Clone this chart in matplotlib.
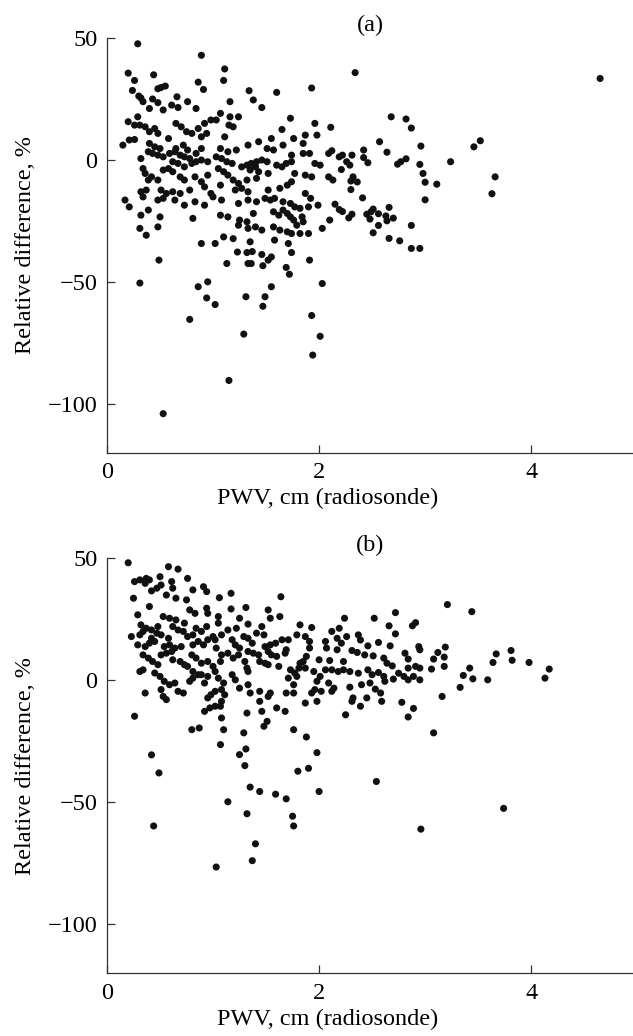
"""
Relative difference vs radiosonde PWV, two panels (a) and (b)
"""
import numpy as np
import matplotlib
matplotlib.use("Agg")
import matplotlib.pyplot as plt

# ---- panel (a): (PWV cm, relative difference %) ----
a_left_cluster = [
    (0.34, 23.8), (0.40, 21.0), (0.48, 23.4), (0.53, 20.4), (0.61, 22.4), (0.67, 21.4),
    (0.76, 23.8), (0.84, 21.0), (0.20, 15.6), (0.26, 14.2), (0.31, 14.2), (0.36, 13.5),
    (0.29, 17.6), (0.40, 11.5), (0.45, 12.8), (0.48, 10.8), (0.65, 14.9), (0.70, 13.5),
    (0.75, 11.5), (0.80, 10.8), (0.86, 12.8), (0.92, 14.9), (0.98, 16.3), (0.89, 9.4),
    (0.94, 10.8), (0.15, 6.0), (0.21, 8.1), (0.26, 8.3), (0.40, 6.7), (0.45, 5.3),
    (0.50, 4.6), (0.58, 8.7), (0.39, 3.3), (0.43, 2.6), (0.48, 1.9), (0.53, 1.2),
    (0.59, 2.6), (0.64, 3.3), (0.69, 1.9), (0.73, 1.2), (0.78, 0.5), (0.84, 2.6),
    (0.89, 4.6), (0.65, 4.6), (0.72, 6.0), (0.76, 4.0), (0.32, 0.5), (0.62, -0.8),
    (0.67, -1.5), (0.73, -2.9), (0.80, -1.5), (0.84, -0.8), (0.89, -0.1), (0.95, -0.8),
    (0.34, -3.6), (0.36, -5.6), (0.39, -8.3), (0.42, -7.0), (0.48, -8.3), (0.53, -4.2),
    (0.58, -3.6), (0.62, -4.9), (0.69, -7.0), (0.73, -8.3), (0.83, -7.0), (0.89, -9.0),
    (0.95, -6.3), (0.32, -13.1), (0.37, -12.4), (0.51, -12.4), (0.56, -13.8), (0.62, -13.1),
    (0.69, -13.8), (0.78, -12.4), (0.92, -11.1), (0.98, -13.8), (0.34, -15.2), (0.48, -16.5),
    (0.53, -15.8), (0.64, -16.5), (0.73, -18.6), (0.83, -17.2), (0.92, -18.6), (1.00, -15.2),
    (0.17, -16.5), (0.21, -19.3), (0.32, -22.7), (0.39, -20.6), (0.50, -23.4), (0.31, -28.1),
    (0.37, -30.9), (0.48, -27.5), (0.81, -24.0), (0.89, -34.3),
]

a_mid_cluster = [
    (1.16, 23.8), (1.38, 24.5), (1.46, 21.4), (1.07, 19.0), (1.16, 17.6), (1.24, 17.6),
    (1.15, 14.2), (1.19, 13.5), (1.03, 16.3), (1.73, 17.0), (1.96, 14.9), (1.65, 12.4),
    (1.87, 10.1), (1.98, 10.1), (1.55, 8.7), (1.76, 8.7), (1.43, 7.4), (1.11, 9.4),
    (1.33, 6.0), (1.51, 4.6), (1.66, 6.0), (1.85, 6.7), (1.07, 4.6), (1.14, 3.3),
    (1.22, 4.0), (1.57, 4.0), (1.74, 1.9), (1.85, 2.6), (1.91, 2.6), (2.09, 2.6),
    (1.03, 1.2), (1.08, 0.5), (1.13, -0.8), (1.18, -1.5), (1.27, -2.9), (1.32, -2.2),
    (1.36, -1.5), (1.41, -0.8), (1.46, -0.1), (1.51, -0.8), (1.40, -2.9), (1.43, -4.9),
    (1.35, -4.2), (1.60, -2.2), (1.65, -2.9), (1.74, -0.8), (1.69, -1.5), (1.05, -3.6),
    (1.10, -4.9), (1.14, -6.3), (1.19, -8.3), (1.24, -9.7), (1.32, -8.3), (1.41, -7.6),
    (1.52, -5.6), (1.77, -5.6), (1.87, -6.3), (1.93, -7.0), (1.96, -1.5), (2.01, -2.2),
    (2.09, -7.0), (1.63, -11.7), (1.70, -10.4), (1.74, -9.0), (1.21, -12.4), (1.27, -11.7),
    (1.33, -13.1), (1.52, -12.4), (1.07, -10.4), (1.87, -13.8), (1.92, -15.8), (1.08, -16.5),
    (1.33, -16.5), (1.49, -15.8), (1.54, -16.5), (1.58, -15.8), (1.66, -17.2), (1.73, -17.9),
    (1.77, -19.3), (1.82, -19.9), (1.24, -17.9), (1.41, -17.2), (1.90, -19.3), (1.99, -18.6),
    (1.57, -21.3), (1.62, -22.7), (1.66, -20.6), (1.70, -22.0), (1.73, -23.4), (1.76, -24.7),
    (1.79, -26.8), (1.84, -23.4), (1.85, -25.4), (1.07, -22.7), (1.14, -23.4), (1.38, -22.0),
    (1.25, -24.7), (1.32, -25.4), (1.24, -26.8), (1.33, -28.1), (1.40, -27.5), (1.46, -28.8),
    (1.57, -27.5), (1.63, -28.8), (1.70, -29.5), (1.74, -30.2), (1.82, -30.2), (1.90, -30.2),
    (2.03, -28.1), (1.10, -31.6), (1.19, -32.3), (1.35, -33.6), (1.58, -32.9), (1.71, -34.3),
    (1.02, -34.3),
]

a_upper = [
    (0.29, 47.5), (0.89, 42.8), (1.11, 37.2), (1.10, 32.5), (0.20, 35.5), (0.26, 32.5),
    (0.44, 34.8), (2.34, 35.7), (4.65, 33.3), (0.86, 31.8), (0.91, 28.8), (0.24, 28.4),
    (1.93, 29.4), (1.34, 28.3), (1.60, 27.6), (0.30, 26.1), (0.32, 25.3), (0.48, 29.1),
    (0.51, 29.6), (0.55, 30.2), (0.43, 24.9), (0.66, 25.8),
]

a_right = [
    (2.11, 13.3), (2.68, 17.6), (2.82, 16.7), (2.87, 13.0), (2.57, 7.4), (3.52, 7.8),
    (3.46, 5.3), (2.96, 5.6), (2.42, 4.0), (2.64, 3.1), (3.24, -0.8), (2.82, 0.4),
    (2.77, -0.8), (2.74, -1.8), (2.95, -1.9), (2.98, -5.6), (3.00, -9.2), (3.11, -10.0),
    (3.66, -7.0), (3.63, -13.9), (3.00, -16.4), (2.41, -15.6), (2.51, -20.2), (2.49, -21.3),
    (2.56, -22.1), (2.45, -22.3), (2.48, -24.3), (2.56, -26.9), (2.51, -29.9), (2.66, -19.5),
    (2.63, -23.0), (2.64, -25.0), (2.70, -23.9), (2.66, -32.2), (2.76, -33.2), (2.87, -26.9),
    (2.87, -36.3), (2.95, -36.3), (2.31, -22.3), (2.28, -23.8), (2.22, -21.2), (2.19, -20.4),
    (2.15, -18.2), (2.10, -24.7), (2.12, 3.7), (2.19, 1.2), (2.22, 1.9), (2.31, 1.9),
    (2.26, -0.8), (2.29, -2.2), (2.21, -4.0), (2.30, -8.7), (2.32, -7.0), (2.36, -9.1),
    (2.42, 0.9), (2.46, -1.2), (2.30, -12.2), (2.13, -8.3),
]

a_lower = [
    (1.91, -41.1), (2.03, -50.7), (1.93, -63.8), (2.01, -72.3), (1.94, -80.0), (1.72, -46.9),
    (1.69, -44.1), (1.74, -38.0), (1.55, -39.8), (1.52, -41.1), (1.47, -43.4), (1.46, -38.8),
    (1.55, -52.0), (1.49, -56.1), (1.47, -60.0), (1.33, -42.5), (1.36, -42.5), (1.37, -37.6),
    (1.32, -38.0), (1.31, -56.1), (1.29, -71.4), (1.23, -37.8), (1.13, -42.5), (1.15, -90.4),
    (0.95, -50.0), (0.86, -52.0), (0.94, -56.6), (1.02, -59.3), (0.78, -65.4), (0.49, -41.1),
    (0.31, -50.5), (0.53, -104.0),
]

# ---- panel (b) ----
b_left_cluster = [
    (0.20, 48.0), (0.26, 40.3), (0.31, 41.0), (0.37, 41.6), (0.40, 41.0), (0.36, 39.6),
    (0.50, 42.3), (0.58, 46.4), (0.67, 45.4), (0.76, 41.6), (0.51, 38.9), (0.47, 37.6),
    (0.42, 36.5), (0.61, 40.3), (0.62, 37.6), (0.56, 34.8), (0.65, 33.5), (0.75, 32.8),
    (0.81, 36.9), (0.91, 38.2), (0.94, 36.2), (0.25, 33.5), (0.40, 30.1), (0.29, 26.7),
    (0.53, 26.0), (0.59, 25.3), (0.65, 24.6), (0.73, 23.3), (0.78, 28.7), (0.83, 27.3),
    (0.94, 29.4), (0.95, 27.3), (0.32, 22.6), (0.37, 21.2), (0.42, 20.5), (0.48, 21.9),
    (0.23, 17.8), (0.31, 18.5), (0.34, 19.9), (0.42, 17.1), (0.47, 19.2), (0.51, 18.5),
    (0.58, 17.1), (0.62, 21.9), (0.67, 20.5), (0.72, 19.9), (0.76, 17.8), (0.81, 18.5),
    (0.84, 21.2), (0.89, 19.9), (0.94, 21.9), (0.81, 14.4), (0.86, 15.8), (0.91, 14.4),
    (0.95, 16.5), (1.00, 17.8), (0.29, 14.4), (0.36, 13.7), (0.40, 15.1), (0.45, 15.8),
    (0.54, 13.7), (0.59, 14.4), (0.64, 13.1), (0.70, 13.7), (0.34, 10.3), (0.39, 9.0),
    (0.43, 7.6), (0.48, 6.3), (0.51, 10.3), (0.56, 11.0), (0.61, 11.7), (0.62, 8.3),
    (0.69, 7.6), (0.73, 6.3), (0.80, 10.3), (0.84, 9.0), (0.89, 6.9), (0.95, 7.6),
    (1.00, 5.6), (0.76, 5.6), (0.81, 3.5), (0.86, 2.2), (0.34, 4.2), (0.31, 3.5),
    (0.45, 2.9), (0.50, 1.5), (0.54, -0.5), (0.59, -1.9), (0.64, -1.2), (0.67, -4.6),
    (0.72, -5.3), (0.78, -0.5), (0.81, 0.8), (0.92, -1.2), (0.89, 2.2), (0.95, 1.5),
    (0.36, -5.3), (0.51, -3.9), (0.53, -6.7), (0.56, -8.0), (0.95, -7.3), (0.98, -6.0),
    (1.02, -4.6), (0.92, -12.8), (0.97, -11.4), (1.02, -10.7), (0.26, -14.8), (0.80, -20.3),
    (0.87, -19.6),
]

b_mid_cluster = [
    (1.17, 35.5), (1.06, 33.7), (1.64, 34.1), (1.17, 29.1), (1.31, 29.7), (1.52, 28.7),
    (1.54, 25.3), (1.63, 26.0), (1.05, 26.0), (1.05, 23.3), (1.25, 25.3), (1.33, 22.9),
    (1.46, 21.9), (1.14, 20.5), (1.22, 21.2), (1.08, 18.5), (1.02, 16.5), (1.18, 16.5),
    (1.21, 14.4), (1.25, 13.1), (1.29, 17.8), (1.33, 17.1), (1.37, 15.1), (1.41, 19.2),
    (1.48, 18.5), (1.54, 14.4), (1.59, 15.1), (1.65, 16.5), (1.71, 16.5), (1.79, 18.5),
    (1.82, 22.6), (1.93, 21.5), (1.87, 17.8), (1.91, 15.8), (1.91, 13.1), (1.88, 9.7),
    (2.06, 15.8), (2.07, 13.1), (2.00, 8.3), (1.03, 13.1), (1.08, 10.3), (1.07, 7.6),
    (1.14, 11.0), (1.19, 9.0), (1.24, 10.3), (1.33, 11.7), (1.38, 11.0), (1.43, 10.3),
    (1.49, 13.7), (1.52, 11.7), (1.55, 10.3), (1.60, 9.7), (1.44, 7.6), (1.49, 6.9),
    (1.30, 7.6), (1.32, 4.9), (1.33, 3.5), (1.52, 6.3), (1.62, 5.6), (1.68, 11.0),
    (1.69, 12.4), (1.82, 6.9), (1.85, 7.6), (1.73, 4.2), (1.77, 2.9), (1.81, 4.9),
    (1.87, 4.9), (1.95, 3.5), (1.71, 0.8), (1.76, -1.9), (1.79, 1.5), (1.98, -0.5),
    (2.01, 1.5), (1.96, -3.9), (2.02, -4.6), (1.93, -5.3), (1.98, -8.7), (2.09, -1.2),
    (1.87, -9.4), (1.69, -5.3), (1.76, -5.3), (1.60, -11.4), (1.68, -12.8), (1.02, 3.5),
    (1.05, 0.8), (1.10, -1.2), (1.18, 2.2), (1.21, 0.1), (1.25, -3.3), (1.08, -3.9),
    (1.11, -6.0), (1.08, -8.7), (1.07, -10.7), (1.33, -1.9), (1.35, -5.3), (1.44, -4.6),
    (1.44, -8.7), (1.54, -5.3), (1.52, -6.7), (1.46, -12.8), (1.32, -13.5), (1.08, -15.5),
    (1.51, -16.9), (1.48, -18.9), (1.10, -20.3), (1.29, -21.6), (1.76, -20.3),
]

b_right = [
    (3.21, 30.9), (3.44, 28.0), (2.24, 25.3), (2.52, 25.3), (2.72, 27.6), (2.66, 22.2),
    (2.72, 18.9), (2.88, 22.2), (2.91, 23.5), (2.12, 19.9), (2.19, 21.2), (2.17, 17.1),
    (2.26, 17.8), (2.37, 18.5), (2.39, 16.4), (2.17, 12.4), (2.21, 15.1), (2.46, 14.0),
    (2.56, 15.4), (2.67, 14.0), (2.31, 12.1), (2.36, 11.3), (2.43, 10.3), (2.10, 8.0),
    (2.23, 7.6), (2.51, 9.9), (2.61, 9.0), (2.64, 6.9), (2.69, 5.8), (2.81, 11.0),
    (2.84, 8.6), (2.94, 13.7), (2.95, 12.4), (3.12, 11.3), (3.19, 13.5), (3.18, 9.4),
    (3.08, 8.6), (3.18, 5.6), (3.06, 4.5), (2.91, 5.6), (2.95, 4.9), (2.84, 4.9),
    (2.06, 4.2), (2.12, 4.2), (2.18, 3.5), (2.23, 4.2), (2.29, 3.5), (2.37, 2.8),
    (2.46, 4.2), (2.50, 2.2), (2.56, 3.1), (2.61, 1.5), (2.70, 0.4), (2.75, 2.8),
    (2.80, 1.5), (2.84, 0.1), (2.89, 1.5), (2.95, 0.1), (2.14, -3.3), (2.29, -2.9),
    (2.40, -1.9), (2.48, -1.2), (2.53, -3.7), (2.58, -5.3), (2.62, -0.5), (2.12, -4.6),
    (2.39, -10.7), (2.31, -8.7), (2.32, -7.3), (2.45, -7.3), (2.59, -8.7), (2.78, -9.1),
    (2.89, -11.6), (2.84, -15.1), (2.25, -14.2), (3.16, -6.7), (3.36, 1.9), (3.42, 4.9),
    (3.45, 0.5), (3.33, -3.0), (3.08, -21.6), (3.59, 0.1), (3.67, 10.7), (3.81, 12.1),
    (3.82, 8.1), (3.64, 7.2), (3.98, 7.2), (4.17, 4.5), (4.13, 0.8),
]

b_lower = [
    (0.42, -30.6), (0.49, -38.0), (0.44, -59.7), (1.07, -26.4), (1.25, -30.5), (1.31, -28.2),
    (1.30, -35.0), (1.88, -23.3), (1.98, -29.7), (1.80, -37.3), (1.90, -36.1), (1.35, -43.8),
    (1.44, -45.6), (1.59, -46.7), (1.69, -48.6), (2.00, -45.6), (1.14, -49.8), (1.32, -54.7),
    (1.75, -55.7), (1.76, -59.7), (1.40, -67.0), (1.37, -73.9), (1.03, -76.5), (2.54, -41.5),
    (2.96, -61.0), (3.74, -52.5),
]

panels = [
    ("(a)", a_left_cluster + a_mid_cluster + a_upper + a_right + a_lower),
    ("(b)", b_left_cluster + b_mid_cluster + b_right + b_lower),
]

plt.rcParams['font.family'] = ['Liberation Serif', 'DejaVu Serif']

fig = plt.figure(figsize=(6.33, 10.36), dpi=100)
boxes = [[0.169, 0.563, 0.831, 0.4006], [0.169, 0.0605, 0.831, 0.401]]

for (tag, pts), box in zip(panels, boxes):
    ax = fig.add_axes(box)
    pwv, diff = np.array(pts).T
    ax.scatter(pwv, diff, s=26, color='#111111', edgecolors='none', zorder=3)
    ax.set_xlim(0, 4.96)
    ax.set_ylim(-120, 50)
    ax.set_xticks([0, 2, 4])
    ax.set_yticks([-100, -50, 0, 50])
    ax.spines['top'].set_visible(False)
    ax.spines['right'].set_visible(False)
    for side in ('left', 'bottom'):
        ax.spines[side].set_linewidth(0.9)
        ax.spines[side].set_color('#333333')
    ax.tick_params(direction='in', length=5.5, width=0.9, color='#333333',
                   labelsize=17.5, pad=7)
    ax.set_xlabel('PWV, cm (radiosonde)', fontsize=17.5, labelpad=0)
    ax.xaxis.set_label_coords(0.42, -0.085)
    ax.set_ylabel('Relative difference, %', fontsize=17.5, labelpad=8)
    ax.set_title(tag, fontsize=17.5, pad=5)

fig.savefig('out.png', dpi=100)
